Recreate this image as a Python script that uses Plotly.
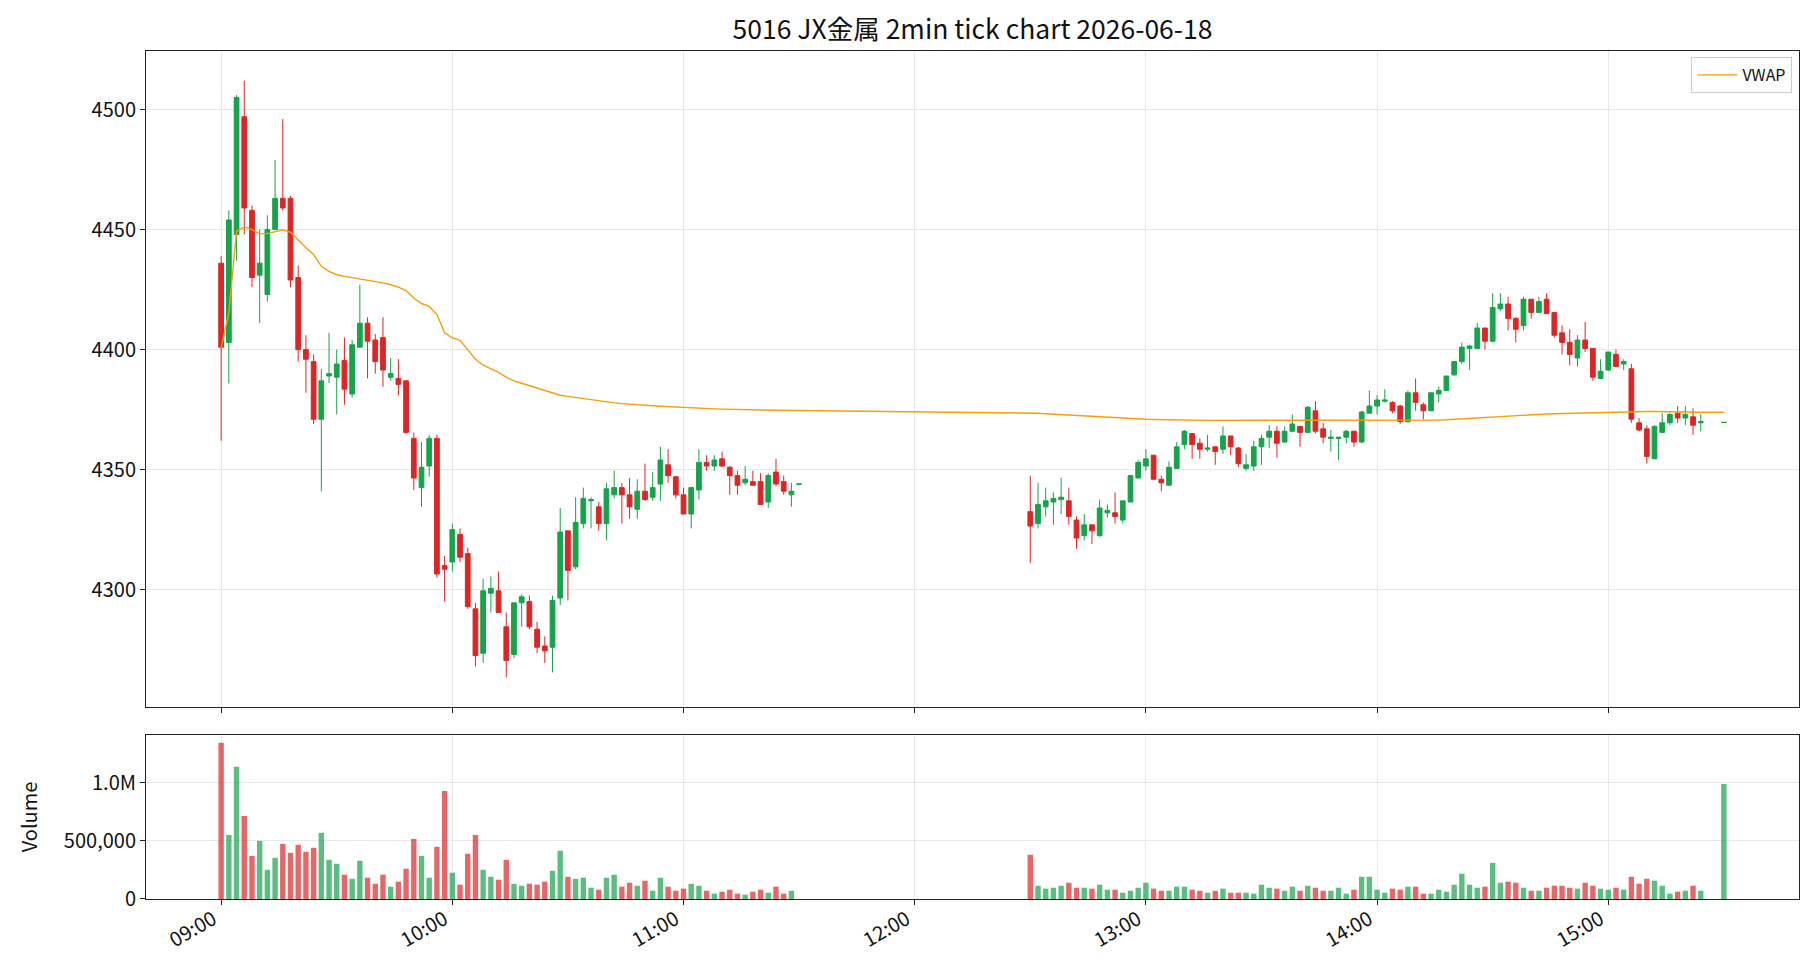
import pandas as pd
import plotly.graph_objects as go
from plotly.subplots import make_subplots

TITLE = "5016 JX金属 2min tick chart 2026-06-18"
DATE = "2026-06-18"

# bar times: morning 09:00-11:30, afternoon 12:30-15:24 plus 15:30 close
times = list(pd.date_range(f"{DATE} 09:00", f"{DATE} 11:30", freq="2min")) + \
        list(pd.date_range(f"{DATE} 12:30", f"{DATE} 15:24", freq="2min")) + \
        [pd.Timestamp(f"{DATE} 15:30")]

open_ = [
    4436, 4403, 4448, 4497, 4458, 4431, 4423, 4450, 4463, 4463,
    4430, 4400, 4395, 4371, 4389, 4388.5, 4395.5, 4381.5, 4401, 4411,
    4404, 4405, 4388.5, 4388, 4387, 4363, 4342.5, 4351.5, 4363, 4310,
    4311.5, 4323, 4315, 4292, 4273.5, 4298.5, 4299.5, 4284.5, 4273, 4294.5,
    4295, 4283.5, 4276.5, 4276, 4296.5, 4324.5, 4309.5, 4327.5, 4337, 4334.5,
    4327.5, 4339.5, 4342.5, 4339.5, 4333.5, 4341, 4338.5, 4344, 4352, 4347,
    4339.5, 4331.5, 4341.5, 4353, 4351.5, 4354.5, 4351, 4347.5, 4344.5, 4345,
    4345, 4336.5, 4349, 4345, 4339.5, 4343.9,
    4332.5, 4327.5, 4334.5, 4336.5, 4337.5, 4337, 4329, 4322.5, 4327, 4322.5,
    4332, 4332, 4329, 4336.5, 4346.5, 4351.5, 4356, 4346, 4343.5, 4350.5,
    4360.5, 4365, 4361, 4358.5, 4359.5, 4358.5, 4364, 4359, 4350.5, 4351.5,
    4359.5, 4363.5, 4366, 4361.5, 4366, 4368, 4365.5, 4374.5, 4367, 4363,
    4363, 4363.5, 4366, 4361.5, 4373.5, 4376.5, 4378.5, 4378, 4376.5, 4370,
    4382, 4377, 4374.5, 4381.5, 4383, 4389.5, 4395, 4400.5, 4400.5, 4409,
    4403.5, 4417, 4419, 4413, 4410, 4421, 4415.5, 4421, 4415.5, 4407,
    4403, 4396.5, 4404, 4400.5, 4388, 4391.5, 4398, 4394, 4392, 4369.5,
    4367, 4354.5, 4365.5, 4369.5, 4373.5, 4371.5, 4372, 4369.5, 4369.6,
]
high = [
    4439, 4458, 4506, 4512, 4460, 4450, 4456, 4479, 4496, 4464,
    4435, 4406, 4398, 4392, 4407, 4400, 4405, 4404, 4427, 4413.5,
    4406.5, 4413.5, 4396.5, 4396, 4387, 4365.5, 4361.5, 4364.5, 4364.5, 4314,
    4327.5, 4325.5, 4317.5, 4294.5, 4304.5, 4305.5, 4307.5, 4290.5, 4294.5, 4298,
    4297.5, 4286.5, 4280.5, 4297.5, 4334, 4324.5, 4338.5, 4342.5, 4338.5, 4336.5,
    4344.5, 4349.5, 4344.5, 4346.5, 4346, 4352.5, 4349, 4359.5, 4358.5, 4347.5,
    4342.5, 4342.5, 4358.5, 4356, 4356, 4357.5, 4351.5, 4349.5, 4351.5, 4349.5,
    4348.5, 4348.5, 4354.5, 4347.5, 4344.5, 4344,
    4347.5, 4344.5, 4342.5, 4340.5, 4346.5, 4342.5, 4330.5, 4331.5, 4327, 4337.5,
    4335.5, 4340.5, 4337, 4347.5, 4354, 4358.5, 4356, 4347.5, 4353.5, 4361.5,
    4366.5, 4365, 4363, 4364.5, 4359.5, 4368, 4364, 4359.5, 4356.5, 4362,
    4364.5, 4368.5, 4368, 4368, 4373, 4368, 4376.5, 4378.5, 4369.5, 4366.5,
    4363.5, 4366.5, 4366, 4374.5, 4383, 4381, 4383.5, 4378.5, 4377, 4383,
    4388, 4378, 4382, 4384.5, 4389, 4395, 4403, 4402, 4411, 4409,
    4423.5, 4423.5, 4422, 4413.5, 4422, 4421, 4422, 4423.5, 4415.5, 4410,
    4408.5, 4406, 4411.5, 4400.5, 4396, 4399, 4400, 4396, 4394, 4371.5,
    4368.5, 4368.5, 4373.5, 4373.5, 4376.5, 4376.5, 4375.5, 4373, 4369.7,
]
low = [
    4362, 4386, 4437, 4448, 4426, 4411, 4420, 4450, 4458, 4426,
    4395, 4382, 4369, 4341, 4386, 4373, 4377, 4380, 4401, 4388,
    4390, 4384.5, 4387, 4381, 4365, 4341.5, 4334.5, 4347, 4305, 4295,
    4307.5, 4311.5, 4292, 4268, 4269.5, 4290.5, 4290.5, 4263.5, 4271.5, 4284.5,
    4283.5, 4273.5, 4269.5, 4265.5, 4293.5, 4295.5, 4308.5, 4325.5, 4325.5, 4324.5,
    4320.5, 4338, 4327.5, 4329.5, 4329.5, 4337, 4337, 4337, 4344.5, 4338,
    4331.5, 4325.5, 4337.5, 4349.5, 4349.5, 4351, 4339.5, 4339.5, 4343.5, 4343.5,
    4335.5, 4334, 4343, 4339.5, 4334.5, 4343.9,
    4311, 4325.5, 4330.5, 4327, 4331.5, 4327, 4317, 4320.5, 4319, 4322,
    4330, 4327.5, 4327.5, 4336.5, 4346.5, 4349.5, 4346, 4341, 4343.5, 4350.5,
    4358.5, 4354.5, 4354.5, 4357.5, 4352, 4356.5, 4356, 4351, 4349.5, 4349.5,
    4352, 4359, 4355, 4361, 4365.5, 4359.5, 4365.5, 4365, 4361, 4357.5,
    4354, 4361, 4359.5, 4361, 4373.5, 4373, 4378, 4373.5, 4369, 4369.5,
    4374.5, 4371, 4374.5, 4378, 4383, 4389, 4394, 4391.5, 4400.5, 4400,
    4403, 4416, 4408, 4403, 4408, 4413, 4415.5, 4415, 4405, 4398,
    4393.5, 4393, 4399, 4387, 4388, 4391, 4393, 4391.5, 4369.5, 4366,
    4352.5, 4354.5, 4365.5, 4368.5, 4369.5, 4368.5, 4364.5, 4366, 4369.6,
]
close = [
    4401, 4454, 4505, 4459, 4430, 4436, 4450, 4463, 4459, 4429,
    4400, 4396, 4371, 4387, 4390, 4394, 4383.5, 4402, 4411, 4403.5,
    4395, 4391.5, 4390, 4385.5, 4365.5, 4346.5, 4351, 4363, 4306.5, 4308.5,
    4325, 4313.5, 4293, 4272.5, 4299.5, 4300.5, 4290.5, 4270.5, 4294.5, 4297,
    4284.5, 4276, 4274.5, 4295.5, 4324, 4308, 4328, 4338, 4337.5, 4327.5,
    4342, 4342.5, 4339.5, 4334.5, 4341, 4337.5, 4342.5, 4354, 4347.5, 4339.5,
    4331.5, 4342.5, 4353, 4351.5, 4354, 4351.5, 4347.5, 4343.5, 4346, 4343.5,
    4335.5, 4347.5, 4344, 4341, 4341, 4344,
    4326.5, 4335.5, 4337, 4338, 4338.5, 4330.5, 4321.5, 4327, 4324.5, 4334,
    4333, 4330.5, 4337, 4347.5, 4353, 4354.5, 4346, 4344.5, 4351, 4359.5,
    4366, 4360.5, 4358.5, 4359, 4357.5, 4364, 4359.5, 4352.5, 4352, 4359.5,
    4363, 4366, 4361, 4366, 4369, 4365.5, 4376, 4366, 4363.5, 4363.5,
    4363.5, 4366, 4361.5, 4374, 4376.5, 4379, 4379, 4374.5, 4370, 4382,
    4378, 4374.5, 4382, 4383, 4389, 4395, 4401, 4401.5, 4409, 4403.5,
    4417.5, 4419, 4413, 4408.5, 4421, 4415.5, 4420, 4415, 4406, 4403,
    4398, 4404, 4400.5, 4388.5, 4391, 4399, 4393, 4395, 4371, 4366.5,
    4355.5, 4368, 4369.5, 4373, 4371.5, 4373, 4368.5, 4370, 4369.7,
]
volume = [
    1343000, 551000, 1137000, 714000, 371000, 500000, 251000, 354000, 474000, 397000,
    466000, 406000, 440000, 569000, 337000, 303000, 209000, 174000, 329000, 183000,
    131000, 209000, 106000, 149000, 260000, 517000, 371000, 183000, 449000, 929000,
    226000, 123000, 389000, 551000, 251000, 191000, 166000, 337000, 131000, 114000,
    131000, 123000, 149000, 243000, 414000, 191000, 174000, 183000, 97000, 80000,
    183000, 209000, 106000, 140000, 114000, 157000, 71000, 183000, 106000, 71000,
    89000, 131000, 114000, 71000, 46000, 63000, 80000, 46000, 37000, 63000,
    80000, 54000, 106000, 46000, 71000, 0,
    380000, 114000, 89000, 97000, 114000, 140000, 97000, 97000, 89000, 123000,
    80000, 80000, 54000, 71000, 97000, 140000, 89000, 71000, 71000, 106000,
    106000, 80000, 71000, 54000, 71000, 89000, 54000, 54000, 54000, 46000,
    123000, 97000, 89000, 71000, 106000, 71000, 114000, 97000, 71000, 71000,
    97000, 46000, 80000, 191000, 191000, 80000, 54000, 89000, 80000, 106000,
    106000, 46000, 46000, 80000, 63000, 123000, 217000, 123000, 97000, 106000,
    311000, 140000, 149000, 140000, 97000, 71000, 71000, 97000, 114000, 114000,
    97000, 89000, 140000, 114000, 89000, 80000, 97000, 80000, 191000, 131000,
    174000, 157000, 114000, 46000, 63000, 71000, 114000, 71000, 989000,
]
vwap = [
    4400.7, 4415.3, 4449.3, 4451.1, 4450.0, 4448.3, 4448.3, 4449.0, 4449.9, 4448.9,
    4445.6, 4442.4, 4439.6, 4434.7, 4432.6, 4431.2, 4430.5, 4430.0, 4429.5, 4429.0,
    4428.5, 4427.8, 4427.0, 4426.0, 4424.6, 4421.5, 4419.2, 4418.0, 4414.6, 4407.0,
    4404.9, 4403.9, 4400.0, 4396.0, 4393.5, 4392.0, 4390.5, 4388.5, 4387.0, 4386.0,
    4385.0, 4384.0, 4383.0, 4382.0, 4381.0, 4380.5, 4380.0, 4379.5, 4379.0, 4378.5,
    4378.0, 4377.8, 4377.5, 4377.2, 4377.0, 4376.8, 4376.6, 4376.4, 4376.2, 4376.0,
    4375.8, 4375.6, 4375.5, 4375.4, 4375.3, 4375.2, 4375.1, 4375.0, 4374.9, 4374.9,
    4374.8, 4374.8, 4374.7, 4374.7, 4374.6, 4374.6,
    4373.7, 4373.5, 4373.3, 4373.1, 4372.9, 4372.7, 4372.5, 4372.3, 4372.1, 4371.9,
    4371.7, 4371.5, 4371.4, 4371.2, 4371.1, 4371.0, 4370.9, 4370.8, 4370.8, 4370.7,
    4370.7, 4370.6, 4370.6, 4370.5, 4370.5, 4370.5, 4370.5, 4370.4, 4370.4, 4370.4,
    4370.4, 4370.4, 4370.4, 4370.4, 4370.4, 4370.4, 4370.4, 4370.4, 4370.4, 4370.4,
    4370.4, 4370.4, 4370.4, 4370.4, 4370.5, 4370.5, 4370.5, 4370.5, 4370.5, 4370.5,
    4370.6, 4370.6, 4370.6, 4370.7, 4370.8, 4371.0, 4371.2, 4371.4, 4371.6, 4371.8,
    4372.1, 4372.3, 4372.5, 4372.7, 4372.8, 4373.0, 4373.1, 4373.2, 4373.3, 4373.4,
    4373.5, 4373.6, 4373.7, 4373.8, 4373.9, 4374.0, 4374.1, 4374.2, 4374.3, 4374.3,
    4374.2, 4374.2, 4374.1, 4374.1, 4374.0, 4374.0, 4374.0, 4373.9, 4373.9,
]

y_ticks = [4300, 4350, 4400, 4450, 4500]
vol_ticks = [0, 500000, 1000000]
vol_tick_text = ["0", "500,000", "1.0M"]
x_ticks = ["09:00", "10:00", "11:00", "12:00", "13:00", "14:00", "15:00"]

UP = "#16a34a"
DOWN = "#dc2626"
UP_VOL = "rgba(22,163,74,0.7)"
DOWN_VOL = "rgba(220,38,38,0.7)"
FONT = "Noto Sans CJK JP"
TICK_SIZE = 20

fig = make_subplots(rows=2, cols=1, shared_xaxes=True)

fig.add_trace(go.Candlestick(
    x=times, open=open_, high=high, low=low, close=close,
    increasing=dict(line=dict(color=UP, width=1), fillcolor=UP),
    decreasing=dict(line=dict(color=DOWN, width=1), fillcolor=DOWN),
    showlegend=False, hoverinfo="skip"), row=1, col=1)

fig.add_trace(go.Scatter(
    x=times, y=vwap, mode="lines", name="VWAP",
    line=dict(color="#f59e0b", width=1.4)), row=1, col=1)

vol_colors = [UP_VOL if c >= o else DOWN_VOL for o, c in zip(open_, close)]
fig.add_trace(go.Bar(x=times, y=volume, marker=dict(color=vol_colors, line=dict(width=0)),
                     showlegend=False), row=2, col=1)

x_range = [f"{DATE} 08:40:30", f"{DATE} 15:49:30"]
x_tickvals = [f"{DATE} {t}" for t in x_ticks]
axis_common = dict(showline=True, linecolor="#222", linewidth=1, mirror=True,
                   ticks="outside", ticklen=5, tickcolor="#222",
                   showgrid=True, gridcolor="#e8e8e8", gridwidth=1, zeroline=False,
                   tickfont=dict(family=FONT, size=TICK_SIZE, color="#111"))

fig.update_xaxes(type="date", range=x_range, tickvals=x_tickvals, ticktext=x_ticks,
                 rangeslider=dict(visible=False), **axis_common)
fig.update_xaxes(showticklabels=False, row=1, col=1)
fig.update_xaxes(tickangle=-30, ticklabelshift=-8, ticklabelstandoff=-5, row=2, col=1)
fig.update_yaxes(range=[4251.1, 4524.4], tickvals=y_ticks, **axis_common, row=1, col=1)
fig.update_yaxes(range=[0, 1410000], tickvals=vol_ticks, ticktext=vol_tick_text,
                 title=dict(text="Volume", font=dict(family=FONT, size=TICK_SIZE, color="#111"),
                            standoff=20),
                 **axis_common, row=2, col=1)

fig.update_layout(
    width=1820, height=980,
    margin=dict(l=146, r=21, t=51, b=81),
    paper_bgcolor="white", plot_bgcolor="white",
    boxgap=0.12, bargap=0.3,
    title=dict(text=TITLE, xref="paper", x=0.5, xanchor="center",
               yref="container", y=1 - 30 / 980, yanchor="middle",
               font=dict(family=FONT, size=26.5, color="#111")),
    legend=dict(x=0.996, y=0.993, xanchor="right", yanchor="top",
                bgcolor="white", bordercolor="#cccccc", borderwidth=1,
                itemwidth=40,
                font=dict(family=FONT, size=16, color="#111")),
    font=dict(family=FONT),
)
fig.layout.yaxis.domain = [0.2264, 1.0]
fig.layout.yaxis2.domain = [0.0, 0.1934]

fig.write_html("out.html")
